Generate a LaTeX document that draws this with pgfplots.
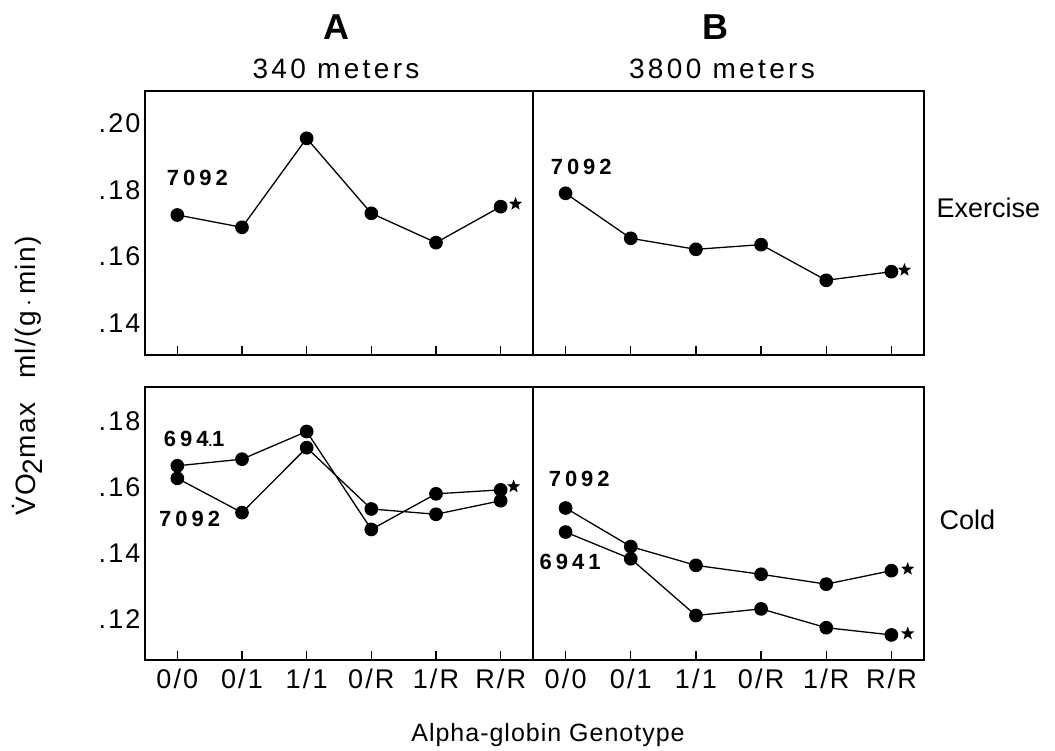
\documentclass[border=0pt]{standalone}
\usepackage{fontspec}
\setmainfont{Liberation Sans}
\usepackage{pgfplots}
\pgfplotsset{compat=1.18}

\newcommand\fs[1]{\fontsize{#1}{#1}\selectfont}
\newcommand\idlab[1]{{\fs{22}\bfseries\addfontfeature{LetterSpace=18}#1}}

% filled five-point star
\pgfdeclareplotmark{fstar}{%
  \pgfpathmoveto{\pgfqpointpolar{90}{\pgfplotmarksize}}%
  \pgfpathlineto{\pgfqpointpolar{126}{0.42\pgfplotmarksize}}%
  \pgfpathlineto{\pgfqpointpolar{162}{\pgfplotmarksize}}%
  \pgfpathlineto{\pgfqpointpolar{198}{0.42\pgfplotmarksize}}%
  \pgfpathlineto{\pgfqpointpolar{234}{\pgfplotmarksize}}%
  \pgfpathlineto{\pgfqpointpolar{270}{0.42\pgfplotmarksize}}%
  \pgfpathlineto{\pgfqpointpolar{306}{\pgfplotmarksize}}%
  \pgfpathlineto{\pgfqpointpolar{342}{0.42\pgfplotmarksize}}%
  \pgfpathlineto{\pgfqpointpolar{18}{\pgfplotmarksize}}%
  \pgfpathlineto{\pgfqpointpolar{54}{0.42\pgfplotmarksize}}%
  \pgfpathclose\pgfusepathqfill}

\pgfplotsset{
  panel/.style={
    scale only axis, clip=false,
    xmin=-0.5, xmax=5.5,
    axis line style={line width=1.6pt},
    xtick={0,...,5}, xtick pos=bottom, tick align=inside,
    major tick length=9pt,
    xtick style={black, line width=1.4pt},
    ytick style={draw=none},
    ticklabel style={font=\fs{27}\addfontfeature{LetterSpace=8}},
    yticklabel style={xshift=-1pt},
    xticklabel style={yshift=-5pt},
  },
  ser/.style={black, line width=1.3pt, mark=*, mark size=6.2pt},
  star/.style={only marks, mark=fstar, mark size=7pt, black},
}

\begin{document}
\begin{tikzpicture}
\path[use as bounding box] (0,0) rectangle (1055pt,751pt);

% A: 340 m, exercise
\begin{axis}[panel, anchor=north west, at={(145pt,660pt)},
  width=388pt, height=264pt, ymin=0.1305, ymax=0.2097,
  ytick={0.14,0.16,0.18,0.20}, yticklabels={.14,.16,.18,.20},
  xticklabels={}]
\addplot[ser] coordinates {(0,0.1725)(1,0.1688)(2,0.1955)(3,0.1730)(4,0.1642)(5,0.1750)};
\addplot[star] coordinates {(5.23,0.1758)};
\node at (axis cs:0.31,0.1836) {\idlab{7092}};
\end{axis}

% B: 3800 m, exercise
\begin{axis}[panel, anchor=north west, at={(533pt,660pt)},
  width=391pt, height=264pt, ymin=0.1305, ymax=0.2097,
  ytick=\empty, xticklabels={}]
\addplot[ser] coordinates {(0,0.1790)(1,0.1655)(2,0.1622)(3,0.1636)(4,0.1529)(5,0.1555)};
\addplot[star] coordinates {(5.2,0.1560)};
\node at (axis cs:0.24,0.1869) {\idlab{7092}};
\end{axis}

% A: 340 m, cold
\begin{axis}[panel, anchor=north west, at={(145pt,364pt)},
  width=388pt, height=273pt, ymin=0.1077, ymax=0.1905,
  ytick={0.12,0.14,0.16,0.18}, yticklabels={.12,.14,.16,.18},
  xticklabels={0/0,0/1,1/1,0/R,1/R,R/R}]
\addplot[ser] coordinates {(0,0.1666)(1,0.1686)(2,0.1770)(3,0.1473)(4,0.1581)(5,0.1593)};
\addplot[ser] coordinates {(0,0.1628)(1,0.1524)(2,0.1721)(3,0.1535)(4,0.1519)(5,0.1560)};
\addplot[star] coordinates {(5.2,0.1603)};
\node at (axis cs:0.26,0.1749) {\idlab{694{\fs{13}.}1}};
\node at (axis cs:0.19,0.1505) {\idlab{7092}};
\end{axis}

% B: 3800 m, cold
\begin{axis}[panel, anchor=north west, at={(533pt,364pt)},
  width=391pt, height=273pt, ymin=0.1077, ymax=0.1905,
  ytick=\empty, xticklabels={0/0,0/1,1/1,0/R,1/R,R/R}]
\addplot[ser] coordinates {(0,0.1538)(1,0.1421)(2,0.1364)(3,0.1337)(4,0.1307)(5,0.1348)};
\addplot[ser] coordinates {(0,0.1465)(1,0.1384)(2,0.1212)(3,0.1232)(4,0.1175)(5,0.1153)};
\addplot[star] coordinates {(5.25,0.1353)(5.25,0.1157)};
\node at (axis cs:0.21,0.1626) {\idlab{7092}};
\node at (axis cs:0.07,0.1373) {\idlab{6941}};
\end{axis}

% titles and side labels
\node at (336pt,724pt) {\fs{36}\bfseries A};
\node at (336pt,682pt) {\fs{28}\addfontfeature{LetterSpace=12}340 meters};
\node at (715pt,724pt) {\fs{36}\bfseries B};
\node at (722pt,682pt) {\fs{28}\addfontfeature{LetterSpace=12}3800 meters};
\node[anchor=west] at (933pt,543pt) {\fs{27}Exercise};
\node[anchor=west] at (936pt,231pt) {\fs{27}Cold};
\node at (548pt,16pt) {\fs{25}\addfontfeature{LetterSpace=4}Alpha-globin Genotype};
\node[rotate=90] at (27pt,375pt) {\fs{28}\addfontfeature{LetterSpace=5}%
  \.{V}O\raisebox{-7pt}{2}max\hspace{24pt}ml/(g\,$\cdot$\,min)};
\end{tikzpicture}
\end{document}
